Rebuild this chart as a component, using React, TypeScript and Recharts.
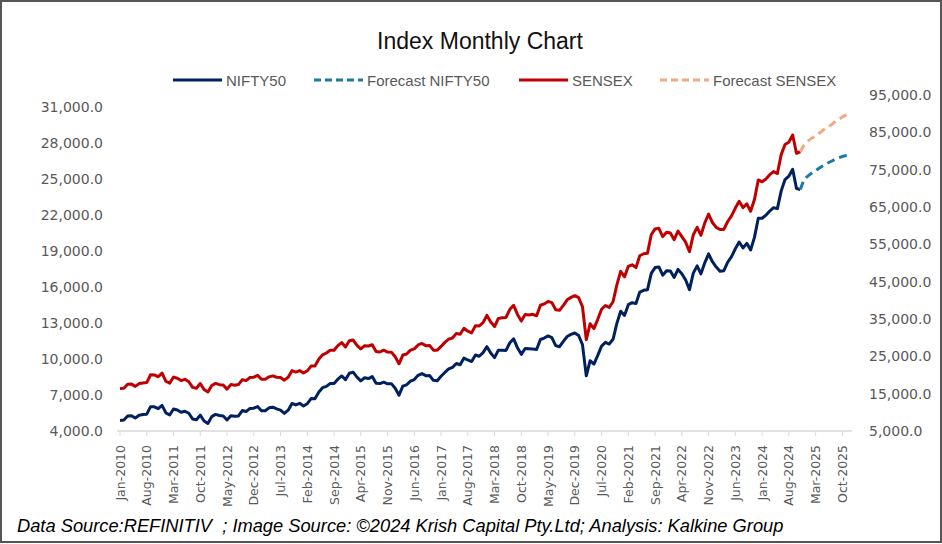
import React from "react";
import { LineChart, Line, XAxis, YAxis } from "recharts";

const MONTH_NAMES = ["Jan", "Feb", "Mar", "Apr", "May", "Jun", "Jul", "Aug", "Sep", "Oct", "Nov", "Dec"];
const YEARS = [2010, 2011, 2012, 2013, 2014, 2015, 2016, 2017, 2018, 2019, 2020, 2021, 2022, 2023, 2024, 2025];
const categories: string[] = YEARS.flatMap((y) => MONTH_NAMES.map((m) => `${m}-${y}`));

// NIFTY50 monthly close, Jan-2010 .. Nov-2024
const nifty50 = [
  4882, 4922, 5249, 5278, 5087, 5313, 5368, 5402, 6030, 6018, 5863, 6135,
  5506, 5333, 5834, 5749, 5560, 5647, 5482, 5001, 4943, 5326, 4832, 4624,
  5199, 5385, 5296, 5248, 4924, 5279, 5229, 5259, 5703, 5620, 5880, 5905,
  6035, 5693, 5683, 5930, 5986, 5842, 5742, 5471, 5735, 6299, 6176, 6304,
  6090, 6277, 6704, 6696, 7230, 7611, 7721, 7954, 7965, 8322, 8588, 8283,
  8809, 8902, 8491, 8182, 8434, 8369, 8533, 7971, 7949, 8066, 7935, 7946,
  7564, 6987, 7738, 7850, 8160, 8288, 8639, 8786, 8611, 8626, 8224, 8186,
  8561, 8880, 9174, 9304, 9621, 9521, 10077, 9918, 9789, 10335, 10227, 10531,
  11028, 10493, 10114, 10739, 10736, 10714, 11357, 11681, 10930, 10387, 10877, 10863,
  10831, 10793, 11624, 11748, 11923, 11789, 11118, 11023, 11474, 11877, 12056, 12168,
  11962, 11202, 8598, 9860, 9580, 10302, 11073, 11388, 11248, 11642, 12969, 13982,
  13635, 14529, 14691, 14631, 15583, 15722, 15763, 17132, 17618, 17672, 16983, 17354,
  17340, 16794, 17465, 17103, 16585, 15780, 17158, 17759, 17094, 18012, 18758, 18105,
  17662, 17304, 17360, 18065, 18534, 19189, 19754, 19254, 19638, 19080, 20133, 21731,
  21726, 21983, 22327, 22605, 22531, 24011, 24951, 25236, 25811, 24205, 24131,
];

// SENSEX monthly close, Jan-2010 .. Nov-2024
const sensex = [
  16358, 16430, 17528, 17559, 16945, 17701, 17868, 17971, 20069, 20032, 19521, 20509,
  18328, 17823, 19445, 19136, 18503, 18846, 18197, 16677, 16454, 17705, 16123, 15455,
  17194, 17753, 17404, 17319, 16219, 17430, 17236, 17430, 18763, 18505, 19340, 19427,
  19895, 18862, 18836, 19504, 19760, 19396, 19346, 18620, 19380, 21165, 20792, 21171,
  20514, 21120, 22386, 22418, 24217, 25414, 25895, 26638, 26631, 27866, 28694, 27499,
  29183, 29362, 27957, 27011, 27828, 27781, 28115, 26283, 26155, 26657, 26146, 26118,
  24871, 23002, 25342, 25607, 26668, 26999, 28052, 28452, 27866, 27930, 26653, 26626,
  27656, 28743, 29621, 29918, 31146, 30922, 32515, 31730, 31284, 33213, 33149, 34057,
  35965, 34184, 32969, 35160, 35322, 35423, 37607, 38645, 36227, 34442, 36194, 36068,
  36257, 35867, 38673, 39032, 39714, 39395, 37481, 37333, 38667, 40129, 40794, 41254,
  40723, 38297, 29468, 33717, 32424, 34916, 37607, 38628, 38068, 39614, 44150, 47751,
  46286, 49100, 49509, 48782, 51937, 52483, 52587, 57552, 59126, 59307, 57065, 58254,
  58014, 56247, 58569, 57061, 55566, 53019, 57570, 59537, 57427, 60747, 63100, 60841,
  59550, 58962, 58992, 61112, 62622, 64719, 66528, 64831, 65828, 63875, 66988, 72240,
  71752, 72500, 73651, 74483, 73961, 79033, 81741, 82365, 84300, 79389, 79803,
];

// Forecasts, Nov-2024 .. Dec-2025
const forecastStart = "Nov-2024";
const forecastNifty50 = [24131, 24917, 25250, 25500, 25700, 25917, 26125, 26300, 26460, 26625, 26750, 26875, 26960, 27000];
const forecastSensex = [79803, 81570, 82640, 83450, 84120, 84800, 85600, 86270, 86940, 87750, 88420, 89090, 89630, 90170];

const leftTicks = [4000, 7000, 10000, 13000, 16000, 19000, 22000, 25000, 28000, 31000];
const rightTicks = [5000, 15000, 25000, 35000, 45000, 55000, 65000, 75000, 85000, 95000];

const fStartIdx = categories.indexOf(forecastStart);
const data = categories.map((month, i) => ({
  month,
  nifty: i < nifty50.length ? nifty50[i] : null,
  sensex: i < sensex.length ? sensex[i] : null,
  niftyF: i >= fStartIdx && i - fStartIdx < forecastNifty50.length ? forecastNifty50[i - fStartIdx] : null,
  sensexF: i >= fStartIdx && i - fStartIdx < forecastSensex.length ? forecastSensex[i - fStartIdx] : null,
}));

const fmt = (v: number) => v.toLocaleString("en-US", { minimumFractionDigits: 1, maximumFractionDigits: 1 });

const C_NIFTY = "#002060";
const C_SENSEX = "#C00000";
const C_NIFTY_F = "#1B7AA6";
const C_SENSEX_F = "#F4A880";
const AXIS_TEXT = "#595959";

const XTick = (props: any) => {
  const { x, y, payload } = props;
  return (
    <g transform={`translate(${x},${y})`}>
      <text
        transform="rotate(-90)"
        x={-7}
        y={0}
        dy="0.36em"
        textAnchor="end"
        fill={AXIS_TEXT}
        fontSize={12.5}
        fontFamily="DejaVu Sans"
      >
        {payload.value}
      </text>
    </g>
  );
};

const legendItems = [
  { label: "NIFTY50", color: C_NIFTY, dashed: false, x: 173 },
  { label: "Forecast NIFTY50", color: C_NIFTY_F, dashed: true, x: 314 },
  { label: "SENSEX", color: C_SENSEX, dashed: false, x: 519 },
  { label: "Forecast SENSEX", color: C_SENSEX_F, dashed: true, x: 660 },
];

export default function App() {
  return (
    <div
      style={{
        position: "absolute",
        left: 0,
        top: 0,
        width: 942,
        height: 544,
        background: "#fff",
        overflow: "hidden",
      }}
    >
      <div
        style={{
          position: "absolute",
          left: 0,
          top: 0,
          width: 938,
          height: 539,
          border: "2px solid #555",
        }}
      />
      <div
        style={{
          position: "absolute",
          left: 0,
          width: 960,
          top: 27,
          textAlign: "center",
          fontFamily: "Liberation Sans",
          fontSize: 23,
          color: "#111",
          lineHeight: "28px",
        }}
      >
        Index Monthly Chart
      </div>
      <svg style={{ position: "absolute", left: 0, top: 0 }} width={942} height={100}>
        {legendItems.map((it) => (
          <g key={it.label}>
            <line
              x1={it.x}
              x2={it.x + 49}
              y1={80}
              y2={80}
              stroke={it.color}
              strokeWidth={3}
              strokeDasharray={it.dashed ? "7 4" : undefined}
            />
            <text
              x={it.x + 53}
              y={85.5}
              fontFamily="Liberation Sans"
              fontSize={15}
              fill={AXIS_TEXT}
            >
              {it.label}
            </text>
          </g>
        ))}
      </svg>
      <div style={{ position: "absolute", left: 0, top: 0 }}>
        <LineChart width={942} height={544} data={data} margin={{ top: 95, right: 0, bottom: 53, left: 0 }}>
          <XAxis
            dataKey="month"
            interval={6}
            height={60}
            tick={<XTick />}
            tickSize={5}
            tickLine={{ stroke: "#d9d9d9" }}
            axisLine={{ stroke: "#d9d9d9", strokeWidth: 1.5 }}
            padding={{ left: 3, right: 2 }}
          />
          <YAxis
            yAxisId="left"
            width={117}
            domain={[4000, 32000]}
            ticks={leftTicks}
            tickFormatter={fmt}
            axisLine={false}
            tickLine={false}
            tickSize={0}
            tickMargin={14}
            tick={{ fill: AXIS_TEXT, fontSize: 14, fontFamily: "DejaVu Sans" }}
            allowDataOverflow
          />
          <YAxis
            yAxisId="right"
            orientation="right"
            width={90}
            domain={[5000, 95000]}
            ticks={rightTicks}
            tickFormatter={fmt}
            axisLine={false}
            tickLine={false}
            tickSize={0}
            tickMargin={17}
            tick={{ fill: AXIS_TEXT, fontSize: 14, fontFamily: "DejaVu Sans" }}
            allowDataOverflow
          />
          <Line yAxisId="left" dataKey="nifty" stroke={C_NIFTY} strokeWidth={3} dot={false} type="linear" isAnimationActive={false} strokeLinejoin="round" />
          <Line yAxisId="left" dataKey="niftyF" stroke={C_NIFTY_F} strokeWidth={3} dot={false} type="monotone" strokeDasharray="8 5" isAnimationActive={false} />
          <Line yAxisId="right" dataKey="sensex" stroke={C_SENSEX} strokeWidth={3} dot={false} type="linear" isAnimationActive={false} strokeLinejoin="round" />
          <Line yAxisId="right" dataKey="sensexF" stroke={C_SENSEX_F} strokeWidth={3} dot={false} type="monotone" strokeDasharray="8 5" isAnimationActive={false} />
        </LineChart>
      </div>
      <div
        style={{
          position: "absolute",
          left: 17,
          top: 515,
          fontFamily: "Liberation Sans",
          fontStyle: "italic",
          fontSize: 18.3,
          color: "#000",
          whiteSpace: "pre",
          lineHeight: "22px",
        }}
      >
        {"Data Source:REFINITIV  ; Image Source: ©2024 Krish Capital Pty.Ltd; Analysis: Kalkine Group"}
      </div>
    </div>
  );
}
